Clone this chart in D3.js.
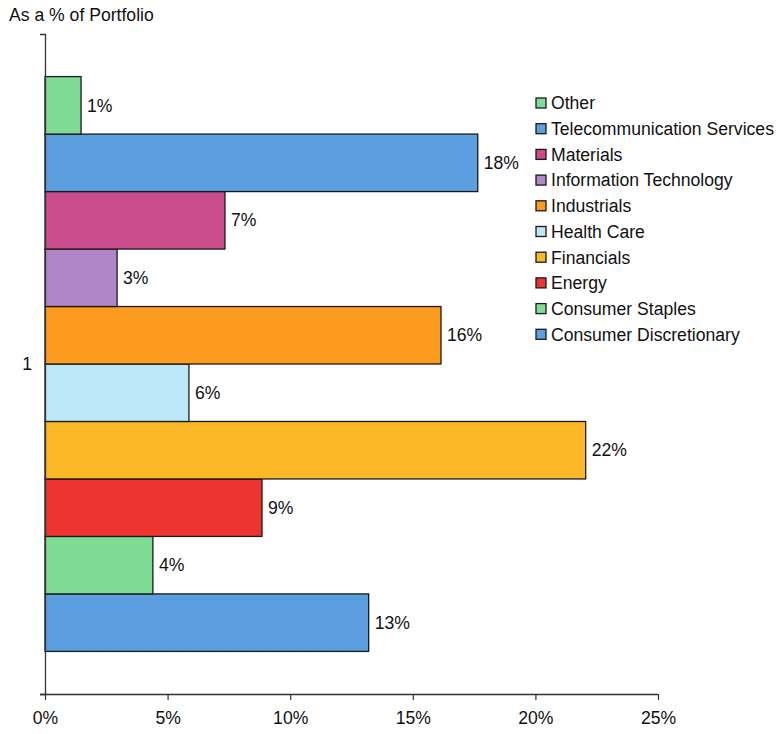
<!DOCTYPE html>
<html>
<head>
<meta charset="utf-8">
<script src="https://cdn.jsdelivr.net/npm/d3@7"></script>
<style>
  body { margin: 0; background: #fff; }
  svg { font-family: "Liberation Sans", Arial, sans-serif; }
</style>
</head>
<body>
<svg id="chart" width="778" height="734"></svg>
<script>
// Portfolio sector weights (percent), one category "1"
const categories = ["1"];
const sectors = [
  "Consumer Discretionary", "Consumer Staples", "Energy", "Financials",
  "Health Care", "Industrials", "Information Technology", "Materials",
  "Telecommunication Services", "Other"
];
const weights = [13.2, 4.4, 8.85, 22.05, 5.87, 16.15, 2.94, 7.34, 17.65, 1.47];
const valueLabels = ["13%", "4%", "9%", "22%", "6%", "16%", "3%", "7%", "18%", "1%"];
const sectorColors = [
  "#5b9fe0", "#80dc95", "#ee3430", "#fcb827", "#bde6f9",
  "#fd9b21", "#b086c9", "#cb4c8a", "#5b9fe0", "#80dc95"
];
const xTicks = [0, 5, 10, 15, 20, 25];
const tickLabels = ["0%", "5%", "10%", "15%", "20%", "25%"];

const fontSize = 17.6;
const svg = d3.select("#chart");
const plotLeft = 45, plotRight = 658, plotTop = 34, plotBottom = 694;

const x = d3.scaleLinear().domain([0, 25]).range([plotLeft, plotRight]);
const yOuter = d3.scaleBand().domain(categories).range([plotBottom, plotTop]).padding(0.069);
const yInner = d3.scaleBand().domain(sectors)
  .range([yOuter("1") + yOuter.bandwidth(), yOuter("1")]);

const data = sectors.map((s, i) => ({ s, v: weights[i], label: valueLabels[i], c: sectorColors[i] }));

// bars
svg.append("g").selectAll("rect").data(data).join("rect")
  .attr("x", x(0))
  .attr("y", d => yInner(d.s))
  .attr("width", d => x(d.v) - x(0))
  .attr("height", yInner.bandwidth())
  .attr("fill", d => d.c)
  .attr("stroke", "#1a1a1a")
  .attr("stroke-width", 1.3);

// value labels
svg.append("g").selectAll("text").data(data).join("text")
  .attr("x", d => x(d.v) + 6)
  .attr("y", d => yInner(d.s) + yInner.bandwidth() / 2)
  .attr("dy", "0.35em")
  .attr("font-size", fontSize)
  .attr("fill", "#111")
  .text(d => d.label);

// x axis
const xAxis = svg.append("g").attr("transform", `translate(0,${plotBottom})`)
  .call(d3.axisBottom(x).tickValues(xTicks).tickFormat((d, i) => tickLabels[i])
    .tickSize(6).tickSizeOuter(0));
xAxis.select(".domain").attr("stroke", "#333").attr("stroke-width", 1.3)
  .attr("d", `M${plotLeft - 5},0.5H${plotRight}`);
xAxis.selectAll(".tick line").attr("stroke", "#333").attr("stroke-width", 1.2);
xAxis.selectAll(".tick text").attr("font-size", fontSize).attr("fill", "#111")
  .attr("font-family", "Liberation Sans, Arial, sans-serif").attr("y", 18);

// y axis (single category)
const yAxisScale = d3.scaleBand().domain(categories).range([plotBottom, plotTop]);
const yAxis = svg.append("g").attr("transform", `translate(${plotLeft},0)`)
  .call(d3.axisLeft(yAxisScale).tickSize(0).tickSizeOuter(5).tickPadding(13));
yAxis.select(".domain").attr("stroke", "#333").attr("stroke-width", 1.3);
yAxis.selectAll(".tick text").attr("font-size", fontSize).attr("fill", "#111")
  .attr("font-family", "Liberation Sans, Arial, sans-serif");

// axis title
svg.append("text").attr("x", 9).attr("y", 21)
  .attr("font-size", fontSize).attr("fill", "#111").text("As a % of Portfolio");

// legend (reverse order, top to bottom)
const legendData = data.slice().reverse();
const lg = svg.append("g").attr("transform", "translate(536,98)");
const row = lg.selectAll("g").data(legendData).join("g")
  .attr("transform", (d, i) => `translate(0,${i * 25.7})`);
row.append("rect").attr("width", 10).attr("height", 10)
  .attr("fill", d => d.c).attr("stroke", "#1a1a1a").attr("stroke-width", 1.3);
row.append("text").attr("x", 15).attr("y", 5).attr("dy", "0.36em")
  .attr("font-size", fontSize).attr("fill", "#111").text(d => d.s);
</script>
</body>
</html>
